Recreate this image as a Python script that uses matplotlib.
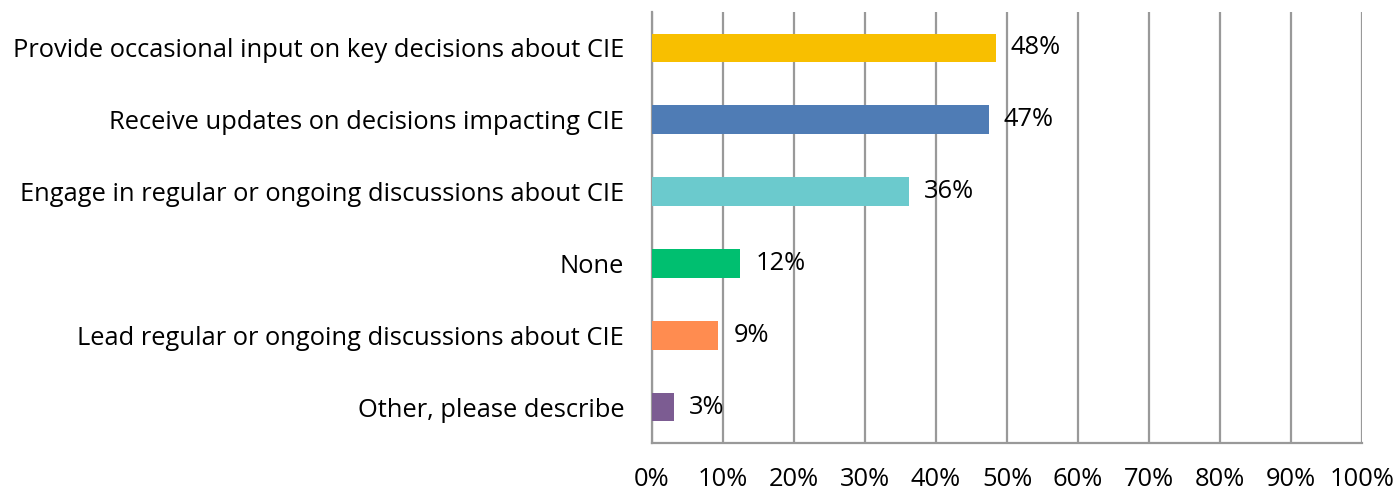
import matplotlib
matplotlib.use("Agg")
import matplotlib.pyplot as plt

categories = [
    "Provide occasional input on key decisions about CIE",
    "Receive updates on decisions impacting CIE",
    "Engage in regular or ongoing discussions about CIE",
    "None",
    "Lead regular or ongoing discussions about CIE",
    "Other, please describe",
]
values = [0.484, 0.474, 0.362, 0.124, 0.093, 0.031]
colors = ["#F8BF00", "#4F7CB5", "#6BCACD", "#00BF70", "#FF8C50", "#7C5C92"]
xticks = [0, 0.1, 0.2, 0.3, 0.4, 0.5, 0.6, 0.7, 0.8, 0.9, 1.0]
xtick_labels = ["0%", "10%", "20%", "30%", "40%", "50%", "60%", "70%", "80%", "90%", "100%"]

plt.rcParams['font.family'] = ['Open Sans', 'DejaVu Sans']
FS = 18.4

fig = plt.figure(figsize=(13.98, 4.92), dpi=100)
ax = fig.add_axes([652/1398, 1-443/492, 710/1398, (443-12)/492])

ypos = list(range(len(categories)))[::-1]
ax.barh(ypos, values, height=0.4, color=colors, zorder=3)
for y, v in zip(ypos, values):
    ax.annotate(f"{round(v*100):.0f}%", xy=(v, y), xytext=(11, 0), textcoords="offset points",
                va="center", ha="left", fontsize=FS, color="black", zorder=4)

ax.set_xlim(0, 1.0)
ax.set_ylim(-0.5, len(categories)-0.5)
ax.set_yticks(ypos)
ax.set_yticklabels(categories, fontsize=FS)
ax.set_xticks(xticks)
ax.set_xticklabels(xtick_labels, fontsize=FS)
ax.tick_params(axis='both', length=0)
ax.tick_params(axis='x', pad=17)
ax.tick_params(axis='y', pad=20)
ax.xaxis.grid(True, color="#999999", linewidth=1.6, zorder=0)
for s in ["top", "right"]:
    ax.spines[s].set_visible(False)
for s in ["left", "bottom"]:
    ax.spines[s].set_color("#999999")
    ax.spines[s].set_linewidth(1.6)

fig.savefig("out.png", dpi=100)
